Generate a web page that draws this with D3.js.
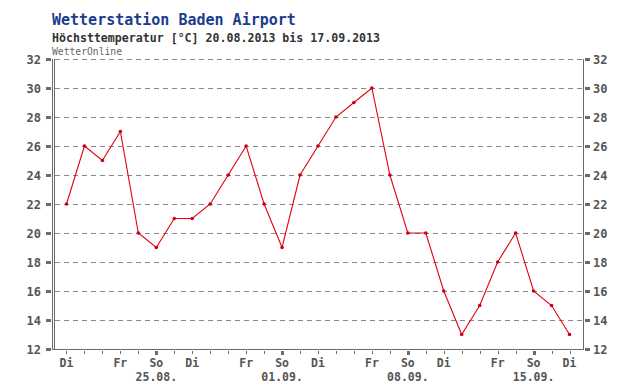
<!DOCTYPE html>
<html>
<head>
<meta charset="utf-8">
<script src="https://cdn.jsdelivr.net/npm/d3@7"></script>
<style>
body { margin:0; background:#fff; }
text { font-family:"DejaVu Sans Mono","Liberation Mono",monospace; }
</style>
</head>
<body>
<svg id="chart" width="640" height="390"></svg>
<script>
// Höchsttemperatur, 20.08.2013 .. 17.09.2013
var days = ["Di","Mi","Do","Fr","Sa","So","Mo","Di","Mi","Do","Fr","Sa","So","Mo",
            "Di","Mi","Do","Fr","Sa","So","Mo","Di","Mi","Do","Fr","Sa","So","Mo","Di"];
var temps = [22,26,25,27,20,19,21,21,22,24,26,22,19,24,26,28,29,30,24,20,20,16,13,15,18,20,16,15,13];
var dayLabels = ["Di","Fr","So"];
var sundayDates = {5:"25.08.", 12:"01.09.", 19:"08.09.", 26:"15.09."};
var yTicks = [12,14,16,18,20,22,24,26,28,30,32];

var svg = d3.select("#chart");
var pL = 53, pR = 583, pT = 59, pB = 349;
var axisColor = "#6b6b6b";

var x = d3.scaleLinear().domain([-0.75, 28.75]).range([pL, pR]);
var y = d3.scaleLinear().domain([12, 32]).range([pB, pT]);

// titles
svg.append("text").attr("x",52).attr("y",25).attr("font-size","15px").attr("font-weight","bold")
	.attr("fill","#1c3c8c").text("Wetterstation Baden Airport");
svg.append("text").attr("x",52).attr("y",42).attr("font-size","11.6px").attr("font-weight","bold")
	.attr("fill","#333").text("Höchsttemperatur [°C] 20.08.2013 bis 17.09.2013");
svg.append("text").attr("x",52).attr("y",55).attr("font-size","9.7px")
	.attr("fill","#666").text("WetterOnline");

// grid
svg.append("g").selectAll("line").data(yTicks.filter(function(d){return d>12;})).enter().append("line")
	.attr("x1",pL+2).attr("x2",pR).attr("y1",function(d){return y(d)+0.5;}).attr("y2",function(d){return y(d)+0.5;})
	.attr("stroke","#888").attr("stroke-dasharray","5,4").attr("stroke-width",1);

// frame
svg.append("line").attr("x1",pL-0.5).attr("x2",pL-0.5).attr("y1",pT).attr("y2",pB+1).attr("stroke",axisColor);
svg.append("line").attr("x1",pL+1.5).attr("x2",pL+1.5).attr("y1",pT).attr("y2",pB).attr("stroke",axisColor);
svg.append("line").attr("x1",pR+0.5).attr("x2",pR+0.5).attr("y1",pT).attr("y2",pB+1).attr("stroke",axisColor);
svg.append("line").attr("x1",pL-0.5).attr("x2",pR+0.5).attr("y1",pB+0.5).attr("y2",pB+0.5).attr("stroke",axisColor);

// y ticks + labels
var yl = svg.append("g");
yTicks.forEach(function(t)
{
	yl.append("rect").attr("x",pL-7).attr("y",y(t)-1).attr("width",5).attr("height",3).attr("fill",axisColor);
	yl.append("rect").attr("x",pR+2).attr("y",y(t)-1).attr("width",5).attr("height",3).attr("fill",axisColor);
	yl.append("text").attr("x",pL-12).attr("y",y(t)+4.5).attr("text-anchor","end").attr("font-size","12px")
		.attr("font-weight","bold").attr("fill","#555").text(t);
	yl.append("text").attr("x",pR+10).attr("y",y(t)+4.5).attr("font-size","12px")
		.attr("font-weight","bold").attr("fill","#555").text(t);
});

// x ticks + labels
var xl = svg.append("g");
days.forEach(function(d,i)
{
	var sun = (d=="So");
	xl.append("rect").attr("x",Math.round(x(i))-(sun?1:0)).attr("y",pB+2).attr("width",sun?3:1).attr("height",sun?4:3)
		.attr("fill",axisColor);
	if(dayLabels.indexOf(d)>=0)
	{
		xl.append("text").attr("x",x(i)).attr("y",pB+18).attr("text-anchor","middle").attr("font-size","11.5px")
			.attr("font-weight","bold").attr("fill","#555").text(d);
	}
	if(sundayDates[i])
	{
		xl.append("text").attr("x",x(i)).attr("y",pB+32).attr("text-anchor","middle").attr("font-size","11.5px")
			.attr("font-weight","bold").attr("fill","#555").text(sundayDates[i]);
	}
});

// line + points
var line = d3.line().x(function(d,i){return x(i);}).y(function(d){return y(d);});
svg.append("path").datum(temps).attr("d",line).attr("fill","none").attr("stroke","#e3000f").attr("stroke-width",1.1);
svg.append("g").selectAll("circle").data(temps).enter().append("circle")
	.attr("cx",function(d,i){return x(i);}).attr("cy",function(d){return y(d);}).attr("r",1.8).attr("fill","#c8001a");
</script>
</body>
</html>
